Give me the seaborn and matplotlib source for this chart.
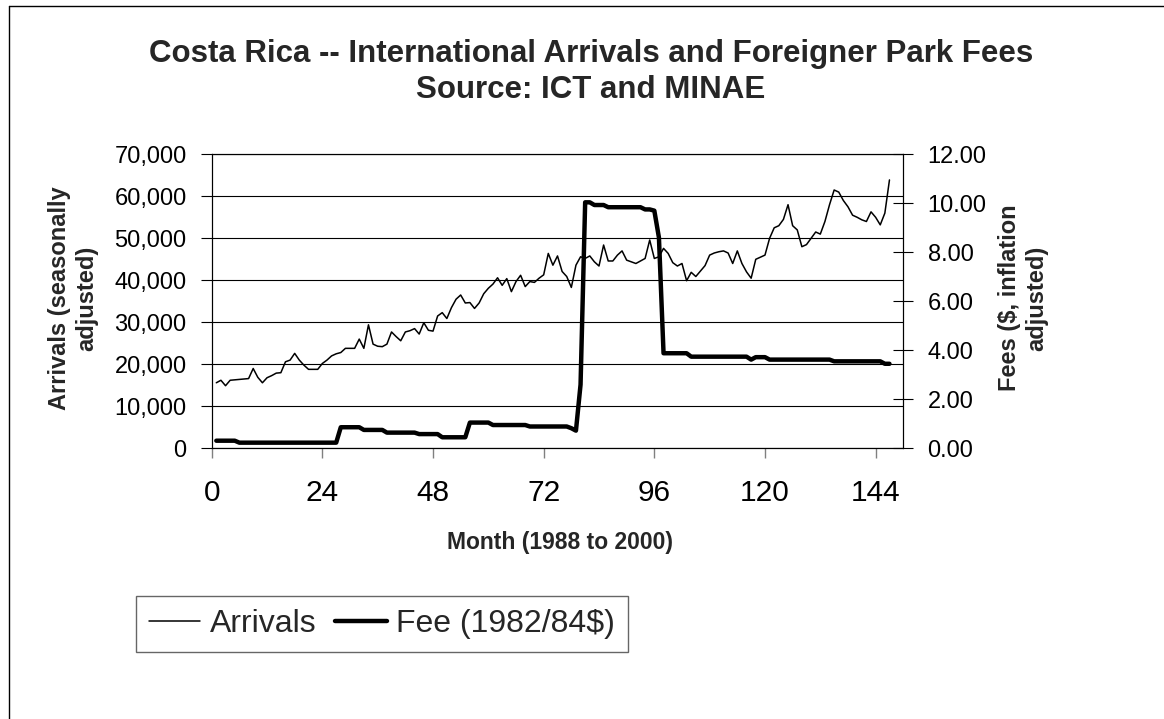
"""
Costa Rica arrivals vs. park fees - recreated chart
"""

import numpy as np
import pandas as pd
import matplotlib
matplotlib.use('Agg')
import matplotlib.pyplot as plt
from matplotlib.lines import Line2D
from matplotlib.ticker import FuncFormatter, MultipleLocator
import seaborn as sns

# data (one value per month, months 1..147)
months = list(range(1, 148))

arrivals = [
    15600, 16200, 14900, 16200, 16300, 16400, 16500, 16600, 19000, 16900, 15600, 16800,
    17300, 17900, 18000, 20600, 21000, 22600, 21000, 19800, 18800, 18800, 18800, 20200,
    21000, 22000, 22500, 22800, 23800, 23800, 23800, 26000, 23800, 29400, 24800, 24300,
    24200, 24800, 27700, 26600, 25600, 27700, 28000, 28500, 27200, 29900, 28100, 27900,
    31500, 32300, 30900, 33500, 35500, 36500, 34600, 34700, 33300, 34600, 36800, 38100,
    39100, 40600, 38800, 40400, 37300, 39700, 41200, 38500, 39700, 39500, 40500, 41300,
    46400, 43600, 45800, 42100, 40900, 38300, 43600, 45600, 45200, 45800, 44400, 43400,
    48400, 44600, 44600, 46000, 47000, 44800, 44400, 44000, 44600, 45200, 49600, 45200,
    45600, 47600, 46400, 44200, 43400, 44000, 39900, 41900, 40900, 42200, 43500, 46000,
    46500, 46800, 47000, 46500, 44000, 47000, 44000, 42000, 40500, 45000, 45500, 46000,
    50000, 52500, 53000, 54500, 58000, 53000, 52000, 48000, 48500, 50000, 51500, 51000,
    54000, 58000, 61500, 61000, 59000, 57500, 55500, 55000, 54400, 54000, 56300, 55000,
    53200, 56000, 63900,
]

fee = [
    0.31, 0.31, 0.31, 0.31, 0.31, 0.23, 0.23, 0.23, 0.23, 0.23, 0.23, 0.23,
    0.23, 0.23, 0.23, 0.23, 0.23, 0.23, 0.23, 0.23, 0.23, 0.23, 0.23, 0.23,
    0.23, 0.23, 0.23, 0.86, 0.86, 0.86, 0.86, 0.86, 0.75, 0.75, 0.75, 0.75,
    0.75, 0.64, 0.64, 0.64, 0.64, 0.64, 0.64, 0.64, 0.58, 0.58, 0.58, 0.58,
    0.58, 0.45, 0.45, 0.45, 0.45, 0.45, 0.45, 1.05, 1.05, 1.05, 1.05, 1.05,
    0.95, 0.95, 0.95, 0.95, 0.95, 0.95, 0.95, 0.95, 0.89, 0.89, 0.89, 0.89,
    0.89, 0.89, 0.89, 0.89, 0.89, 0.82, 0.72, 2.60, 10.04, 10.04, 9.93, 9.93,
    9.93, 9.84, 9.84, 9.84, 9.84, 9.84, 9.84, 9.84, 9.84, 9.75, 9.75, 9.70,
    8.60, 3.88, 3.88, 3.88, 3.88, 3.88, 3.88, 3.74, 3.74, 3.74, 3.74, 3.74,
    3.74, 3.74, 3.74, 3.74, 3.74, 3.74, 3.74, 3.74, 3.62, 3.72, 3.72, 3.72,
    3.62, 3.62, 3.62, 3.62, 3.62, 3.62, 3.62, 3.62, 3.62, 3.62, 3.62, 3.62,
    3.62, 3.62, 3.55, 3.55, 3.55, 3.55, 3.55, 3.55, 3.55, 3.55, 3.55, 3.55,
    3.55, 3.45, 3.45,
]

x_ticks = [0, 24, 48, 72, 96, 120, 144]

sns.set_theme(style='white')
plt.rcParams['font.family'] = ['Liberation Sans', 'DejaVu Sans']

df = pd.DataFrame({'month': months, 'arrivals': arrivals, 'fee': fee})

W, H = 1164, 719
fig = plt.figure(figsize=(W / 100, H / 100), dpi=100)
fig.patch.set_facecolor('white')

# plot area in pixels: x 211.7..903.3, y 154.3..448.3
ax = fig.add_axes([211.7 / W, 1 - 448.3 / H, (903.3 - 211.7) / W, (448.3 - 154.3) / H])
ax2 = ax.twinx()

sns.lineplot(data=df, x='month', y='arrivals', ax=ax, color='black', lw=1.1, legend=False)
sns.lineplot(data=df, x='month', y='fee', ax=ax2, color='black', lw=3.2, legend=False)

ax.set_xlim(0, 150)
ax.set_ylim(0, 70000)
ax2.set_ylim(0, 12)
ax.set_xticks(x_ticks)
ax.yaxis.set_major_locator(MultipleLocator(10000))
ax2.yaxis.set_major_locator(MultipleLocator(2))
ax.yaxis.set_major_formatter(FuncFormatter(lambda v, p: '{:,.0f}'.format(v)))
ax2.yaxis.set_major_formatter(FuncFormatter(lambda v, p: '{:.2f}'.format(v)))

ax.yaxis.grid(True, color='black', lw=0.8)
ax.xaxis.grid(False)
ax.set_xlabel('')
ax.set_ylabel('')
ax2.set_ylabel('')

ax.tick_params(axis='y', direction='out', length=8, width=0.8, colors='black',
               labelsize=17, pad=10, left=True)
ax.tick_params(axis='x', direction='out', length=7, width=1, color='#808080',
               labelcolor='black', labelsize=21.5, pad=15, bottom=True)
ax2.tick_params(axis='y', direction='inout', length=14, width=0.8, colors='black',
                labelsize=17, pad=10.5, right=True)

for a in (ax, ax2):
    for s in a.spines.values():
        s.set_color('black')
        s.set_linewidth(0.8)
        s.set_visible(True)

# titles and axis labels
fig.text(591 / W, 1 - 54 / H, 'Costa Rica -- International Arrivals and Foreigner Park Fees',
         ha='center', va='center', fontsize=22.5, weight='bold')
fig.text(591 / W, 1 - 90 / H, 'Source: ICT and MINAE',
         ha='center', va='center', fontsize=22.5, weight='bold')
fig.text(560 / W, 1 - 542 / H, 'Month (1988 to 2000)',
         ha='center', va='center', fontsize=16.5, weight='bold')
fig.text(73 / W, 1 - 298 / H, 'Arrivals (seasonally\nadjusted)', rotation=90,
         ha='center', va='center', fontsize=17, weight='bold', linespacing=1.25,
         multialignment='center')
fig.text(1023 / W, 1 - 298 / H, 'Fees ($, inflation\nadjusted)', rotation=90,
         ha='center', va='center', fontsize=17, weight='bold', linespacing=1.25,
         multialignment='center')

# legend
handles = [Line2D([], [], color='black', lw=1.1), Line2D([], [], color='black', lw=3.2)]
leg = fig.legend(handles, ['Arrivals', 'Fee (1982/84$)'], loc='center',
                 bbox_to_anchor=(382 / W, 1 - 624 / H), ncol=2, fontsize=23,
                 frameon=True, fancybox=False, shadow=False, handlelength=1.6,
                 handletextpad=0.3, columnspacing=0.6, borderpad=0.4)
leg.get_frame().set_edgecolor('#404040')
leg.get_frame().set_linewidth(1.0)

# outer chart border (left and top edges visible)
fig.add_artist(Line2D([8.5 / W, 8.5 / W], [0, 1 - 6 / H], color='black', lw=1.0))
fig.add_artist(Line2D([8.5 / W, 1], [1 - 6 / H, 1 - 6 / H], color='black', lw=1.0))

plt.savefig('out.png', dpi=100, facecolor='white')
plt.close()
